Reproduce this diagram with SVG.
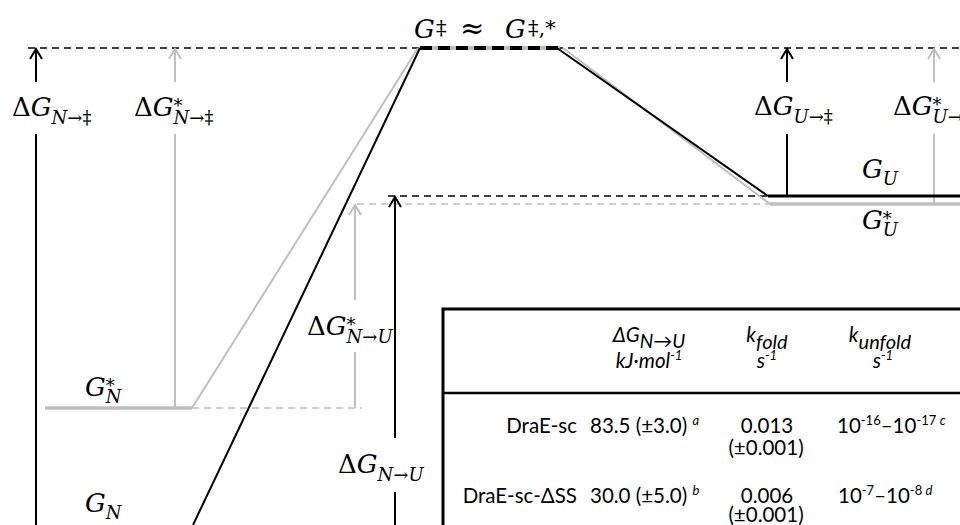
<svg xmlns="http://www.w3.org/2000/svg" width="960" height="525" viewBox="0 0 960 525">
<defs>
<style>
.m{font-family:"DejaVu Serif","Liberation Serif",serif;font-size:26px;fill:#000}
.i{font-style:italic}
.s{font-size:18px}
.t{font-family:Lato,"Liberation Sans",Arial,sans-serif;font-size:20.5px;fill:#000}
.k{stroke:#000;stroke-width:2;fill:none}
.g{stroke:#bfbfbf;stroke-width:2;fill:none}
.dk{stroke:#000;stroke-width:1.6;stroke-dasharray:7 5;fill:none}
.dg{stroke:#bfbfbf;stroke-width:1.6;stroke-dasharray:7 5;fill:none}
</style>
<marker id="ak" markerUnits="userSpaceOnUse" markerWidth="14" markerHeight="16" viewBox="-12 -8 14 16" refX="0" refY="0" orient="auto">
<path d="M-10,-6 L0,0 L-10,6" fill="none" stroke="#000" stroke-width="2"/>
</marker>
<marker id="ag" markerUnits="userSpaceOnUse" markerWidth="14" markerHeight="16" viewBox="-12 -8 14 16" refX="0" refY="0" orient="auto">
<path d="M-10,-6 L0,0 L-10,6" fill="none" stroke="#bfbfbf" stroke-width="2"/>
</marker>
</defs>
<rect width="960" height="525" fill="#fff"/>

<g id="connectors">
<line class="dk" x1="28" y1="48" x2="960" y2="48"/>
<line class="dk" x1="388" y1="196" x2="768" y2="196"/>
<line class="dg" x1="357" y1="204" x2="770" y2="204"/>
<line class="dg" x1="192" y1="408" x2="362" y2="408"/>
<line x1="420" y1="48" x2="560" y2="48" stroke="#bfbfbf" stroke-width="4"/>
<line x1="420" y1="48" x2="560" y2="48" stroke="#000" stroke-width="4" stroke-dasharray="12 6"/>
<line class="g" x1="418" y1="48" x2="192" y2="408"/>
<line class="k" x1="420" y1="48" x2="193" y2="525"/>
<line class="g" x1="563" y1="48" x2="770" y2="204"/>
<line class="k" x1="557" y1="48" x2="768" y2="196"/>
<line class="k" x1="36" y1="525" x2="36" y2="134"/>
<line class="k" x1="36" y1="82" x2="36" y2="49" marker-end="url(#ak)"/>
<line class="g" x1="175" y1="408" x2="175" y2="134"/>
<line class="g" x1="175" y1="82" x2="175" y2="49" marker-end="url(#ag)"/>
<line class="g" x1="355" y1="408" x2="355" y2="352"/>
<line class="g" x1="355" y1="300" x2="355" y2="205" marker-end="url(#ag)"/>
<line class="k" x1="395" y1="525" x2="395" y2="492"/>
<line class="k" x1="395" y1="438" x2="395" y2="197" marker-end="url(#ak)"/>
<line class="k" x1="787" y1="196" x2="787" y2="134"/>
<line class="k" x1="787" y1="82" x2="787" y2="49" marker-end="url(#ak)"/>
<line class="g" x1="934" y1="204" x2="934" y2="134"/>
<line class="g" x1="934" y1="82" x2="934" y2="49" marker-end="url(#ag)"/>
</g>

<g id="node-GN-star">
<line x1="45" y1="408" x2="192" y2="408" stroke="#bfbfbf" stroke-width="3.5"/>
<text class="m" x="85" y="396"><tspan class="i">G</tspan><tspan class="s" dy="-4">*</tspan><tspan class="s i" dx="-9" dy="11">N</tspan></text>
</g>
<g id="node-GN">
<text class="m" x="85" y="512"><tspan class="i">G</tspan><tspan class="s i" dy="7">N</tspan></text>
</g>
<g id="node-GU">
<line x1="768" y1="196" x2="960" y2="196" stroke="#000" stroke-width="3"/>
<text class="m" x="862" y="178"><tspan class="i">G</tspan><tspan class="s i" dy="7">U</tspan></text>
</g>
<g id="node-GU-star">
<line x1="770" y1="204" x2="960" y2="204" stroke="#bfbfbf" stroke-width="3.5"/>
<text class="m" x="862" y="229"><tspan class="i">G</tspan><tspan class="s" dy="-4">*</tspan><tspan class="s i" dx="-9" dy="11">U</tspan></text>
</g>
<g id="node-TS">
<text class="m" x="414" y="38"><tspan class="i">G</tspan><tspan x="436" y="35" font-size="21">‡</tspan><tspan x="460" y="38" font-size="29">≈</tspan><tspan class="i" x="505">G</tspan><tspan x="528" y="35" font-size="21">‡,*</tspan></text>
</g>

<g id="labels">
<text class="m" x="12" y="116">Δ<tspan class="i">G</tspan><tspan class="s i" dy="8">N</tspan><tspan class="s">→‡</tspan></text>
<text class="m" x="134" y="116">Δ<tspan class="i">G</tspan><tspan class="s" dy="-4">*</tspan><tspan class="s i" dx="-9" dy="12">N</tspan><tspan class="s">→‡</tspan></text>
<text class="m" x="754" y="115">Δ<tspan class="i">G</tspan><tspan class="s i" dy="8">U</tspan><tspan class="s">→‡</tspan></text>
<text class="m" x="893" y="115">Δ<tspan class="i">G</tspan><tspan class="s" dy="-4">*</tspan><tspan class="s i" dx="-9" dy="12">U</tspan><tspan class="s">→‡</tspan></text>
<text class="m" x="307" y="335">Δ<tspan class="i">G</tspan><tspan class="s" dy="-4">*</tspan><tspan class="s i" dx="-9" dy="12">N</tspan><tspan class="s">→</tspan><tspan class="s i">U</tspan></text>
<text class="m" x="338" y="473">Δ<tspan class="i">G</tspan><tspan class="s i" dy="8">N</tspan><tspan class="s">→</tspan><tspan class="s i">U</tspan></text>
</g>

<g id="table">
<rect x="443" y="309" width="540" height="240" fill="#fff" stroke="#000" stroke-width="3"/>
<line x1="443" y1="393" x2="960" y2="393" stroke="#000" stroke-width="2.5"/>
<text class="t i" x="649" y="342" text-anchor="middle" font-size="27">ΔG<tspan font-size="19" dy="6">N→U</tspan></text>
<text class="t i" x="649" y="368" text-anchor="middle">kJ·mol<tspan font-size="13" dy="-8">-1</tspan></text>
<text class="t i" x="767" y="342" text-anchor="middle" font-size="29">k<tspan font-size="20" dy="7">fold</tspan></text>
<text class="t i" x="767" y="368" text-anchor="middle">s<tspan font-size="13" dy="-8">-1</tspan></text>
<text class="t i" x="880" y="342" text-anchor="middle" font-size="29">k<tspan font-size="20" dy="7">unfold</tspan></text>
<text class="t i" x="883" y="368" text-anchor="middle">s<tspan font-size="13" dy="-8">-1</tspan></text>

<text class="t" x="577" y="433" text-anchor="end">DraE-sc</text>
<text class="t" x="590" y="433">83.5 (±3.0) <tspan class="i" font-size="13" dy="-8">a</tspan></text>
<text class="t" x="767" y="433" text-anchor="middle">0.013</text>
<text class="t" x="766" y="455" text-anchor="middle">(±0.001)</text>
<text class="t" x="837" y="433">10<tspan font-size="13" dy="-8">-16</tspan><tspan dy="8">–10</tspan><tspan font-size="13" dy="-8">-17 </tspan><tspan class="i" font-size="13">c</tspan></text>

<text class="t" x="577" y="503" text-anchor="end">DraE-sc-ΔSS</text>
<text class="t" x="590" y="503">30.0 (±5.0) <tspan class="i" font-size="13" dy="-8">b</tspan></text>
<text class="t" x="767" y="503" text-anchor="middle">0.006</text>
<text class="t" x="766" y="522" text-anchor="middle">(±0.001)</text>
<text class="t" x="838" y="503">10<tspan font-size="13" dy="-8">-7</tspan><tspan dy="8">–10</tspan><tspan font-size="13" dy="-8">-8  </tspan><tspan class="i" font-size="13">d</tspan></text>
</g>
</svg>
